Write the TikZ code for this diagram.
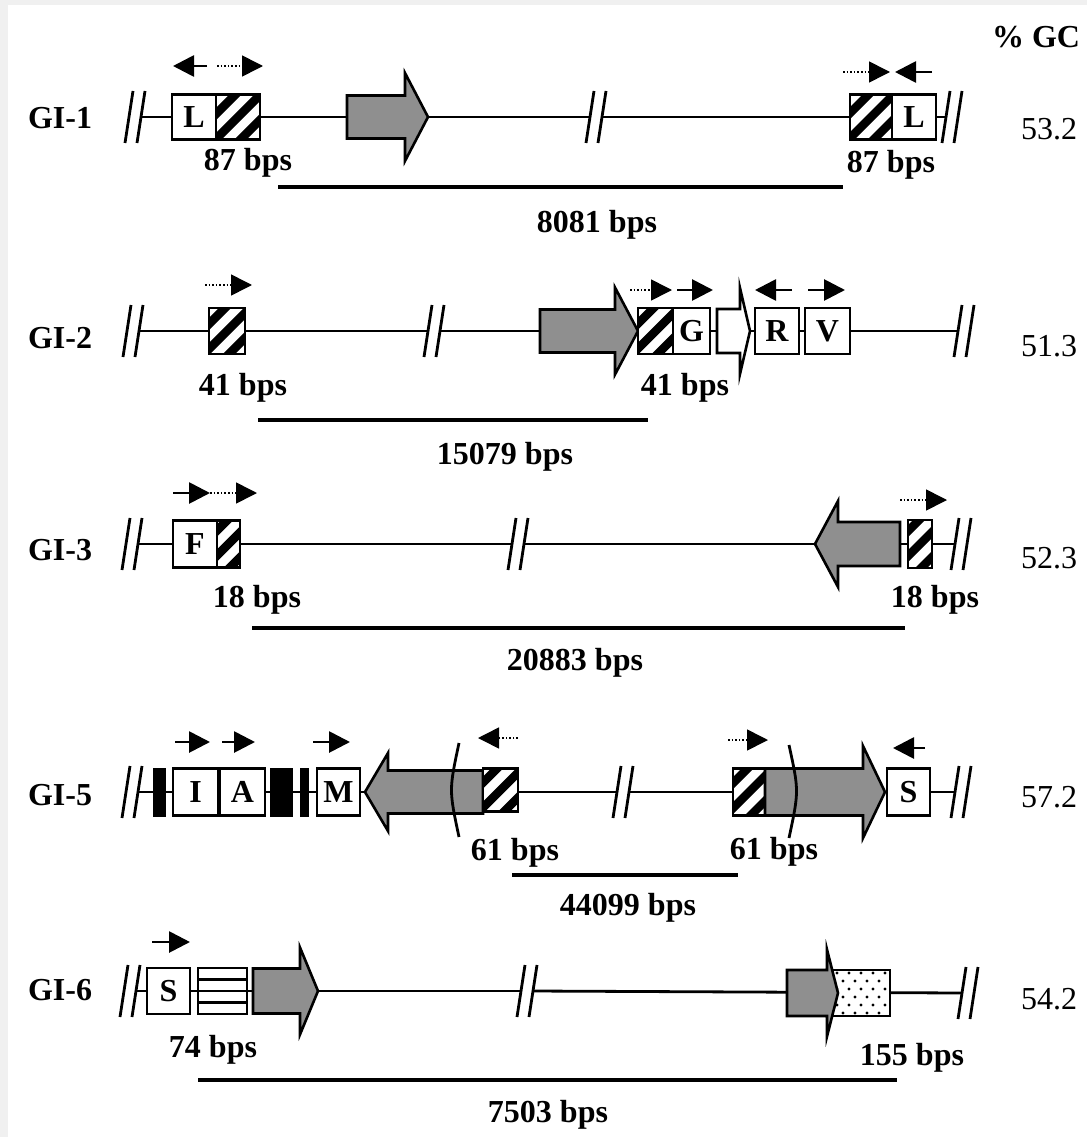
\documentclass[tikz,border=0pt]{standalone}
\usepackage{fontspec}
\setmainfont{Liberation Serif}
\usetikzlibrary{arrows.meta,calc,backgrounds}
\definecolor{genegray}{gray}{0.56}
\tikzset{
  bb/.style={line width=2.8pt},
  brk/.style={line width=2.8pt},
  gbox/.style={draw, line width=2.6pt, fill=white, inner sep=0pt, minimum height=45pt, font=\bfseries},
  hatchbox/.style={gbox, path picture={
      \foreach \s in {-3,...,3}
        \draw[black, line width=8.5pt] ([xshift=\s*25pt]path picture bounding box.center) ++(-35pt,-35pt) -- ++(70pt,70pt);}},
  stripebox/.style={gbox, path picture={
      \foreach \f in {0.25,0.5,0.75}
        \draw[black, line width=2.4pt] ($(path picture bounding box.south west)!\f!(path picture bounding box.north west)$)
          -- ($(path picture bounding box.south east)!\f!(path picture bounding box.north east)$);}},
  dotbox/.style={gbox, path picture={
      \foreach \j in {0,...,5} {
        \pgfmathsetmacro\off{mod(\j,2)*6}
        \foreach \i in {0,...,5}
          \fill[black] ([xshift={\i*12pt+\off*1pt+4pt}, yshift={\j*8pt+3pt}]path picture bounding box.south west) circle (1.6pt);
      }}},
  blackbar/.style={draw, fill=black, line width=1pt, inner sep=0pt, minimum height=48pt},
  gene/.style={draw, line width=2.6pt, line join=miter},
  dirarr/.style={line width=2.8pt, -{Triangle[length=21pt,width=21pt]}},
  dotarr/.style={line width=1.6pt, dotted, -{Triangle[length=21pt,width=21pt]}},
  span/.style={line width=3.8pt},
  bplab/.style={font=\bfseries},
  gilab/.style={font=\bfseries},
  gclab/.style={}
}
% gene arrow: [fill]{x0}{head base}{tip}{y}{half body}{half head}
\newcommand\gene[7][genegray]{%
  \filldraw[gene, fill=#1] ({#2},{#5-#6}) -- ({#3},{#5-#6}) -- ({#3},{#5-#7}) -- ({#4},{#5})
    -- ({#3},{#5+#7}) -- ({#3},{#5+#6}) -- ({#2},{#5+#6}) -- cycle;}
% break mark on the backbone
\newcommand\breakmark[3]{%
  \draw[brk] ({#2-4},{#3+26}) -- ({#2+4},{#3-26});
  \draw[brk] ({#2+8},{#3+26}) -- ({#2+16},{#3-26});
  \coordinate (#1-l) at ({#2},{#3});
  \coordinate (#1-r) at ({#2+12},{#3});}
\begin{document}
\fontsize{32}{36}\selectfont
\begin{tikzpicture}[x=1pt,y=-1pt]
\useasboundingbox (0,0) rectangle (1087,1137);
\node[gilab] (gc) at (1036,37) {\% GC};

% GI-1
\node[gilab] (gi1) at (60,118) {GI-1};
\breakmark{b1a}{129}{117}
\node[gbox, minimum width=44pt] (L1) at (194,117) {L};
\node[hatchbox, minimum width=44pt] (h1a) at (238,117) {};
\gene{347}{405}{428}{117}{21.5}{44}
\breakmark{b1b}{590}{117}
\node[hatchbox, minimum width=42pt] (h1b) at (871,117) {};
\node[gbox, minimum width=44pt] (L2) at (914,117) {L};
\breakmark{b1c}{946}{117}
\draw[dirarr] (207,66) -- (173,66);
\draw[dotarr] (217,66) -- (263,66);
\draw[dotarr] (843,72) -- (890,72);
\draw[dirarr] (932,72) -- (895,72);
\node[bplab] (bp1a) at (248,163) {87 bps};
\node[bplab] (bp1b) at (891,165) {87 bps};
\draw[span] (278,187) -- (843,187);
\node[bplab] (len1) at (597,225) {8081 bps};
\node[gclab] (gc1) at (1049,129) {53.2};

% GI-2
\node[gilab] (gi2) at (60,338) {GI-2};
\breakmark{b2a}{127}{331}
\node[hatchbox, minimum width=36pt, minimum height=46pt] (h2a) at (227,331) {};
\breakmark{b2b}{428}{331}
\gene{540}{615}{638}{331}{21.5}{43.5}
\node[hatchbox, minimum width=35pt, minimum height=46pt] (h2b) at (655.5,331) {};
\node[gbox, minimum width=37pt, minimum height=46pt] (G2) at (691.5,331) {G};
\gene[white]{717}{740}{750}{331}{22}{43}
\node[gbox, minimum width=44pt, minimum height=46pt] (R2) at (777,331) {R};
\node[gbox, minimum width=45pt, minimum height=46pt] (V2) at (827.5,331) {V};
\breakmark{b2c}{958}{331}
\draw[dotarr] (205,285) -- (252,285);
\draw[dotarr] (630,290) -- (672,290);
\draw[dirarr] (677,290) -- (713,290);
\draw[dirarr] (792,290) -- (755,290);
\draw[dirarr] (808,290) -- (845,290);
\node[bplab] (bp2a) at (243,388) {41 bps};
\node[bplab] (bp2b) at (685,388) {41 bps};
\draw[span] (258,420) -- (648,420);
\node[bplab] (len2) at (505,457) {15079 bps};
\node[gclab] (gc2) at (1049,346) {51.3};

% GI-3
\node[gilab] (gi3) at (60,550) {GI-3};
\breakmark{b3a}{126}{544}
\node[gbox, minimum width=44pt, minimum height=47pt] (F3) at (195,544) {F};
\node[hatchbox, minimum width=23pt, minimum height=47pt] (h3a) at (228.5,544) {};
\breakmark{b3b}{512}{544}
\gene{900}{838}{815}{544}{22}{43}
\node[hatchbox, minimum width=24pt, minimum height=48pt] (h3b) at (920,544) {};
\breakmark{b3c}{955}{544}
\draw[dirarr] (173,493) -- (210,493);
\draw[dotarr] (210,493) -- (257,493);
\draw[dotarr] (900,500) -- (947,500);
\node[bplab] (bp3a) at (257,600) {18 bps};
\node[bplab] (bp3b) at (935,600) {18 bps};
\draw[span] (252,628) -- (905,628);
\node[bplab] (len3) at (575,663) {20883 bps};
\node[gclab] (gc3) at (1049,558) {52.3};

% GI-5
\node[gilab] (gi5) at (60,795) {GI-5};
\breakmark{b5a}{126}{792}
\node[blackbar, minimum width=12pt] (k5a) at (159,792) {};
\node[gbox, minimum width=45pt, minimum height=47pt] (I5) at (195.5,792) {I};
\node[gbox, minimum width=45pt, minimum height=47pt] (A5) at (242.5,792) {A};
\node[blackbar, minimum width=22pt] (k5b) at (281,792) {};
\node[blackbar, minimum width=8pt] (k5c) at (304,792) {};
\node[gbox, minimum width=43pt, minimum height=47pt] (M5) at (338.5,792) {M};
\gene{483}{388}{365}{792}{21.5}{39}
\node[hatchbox, minimum width=35pt, minimum height=43pt] (h5a) at (500.5,790) {};
\draw[brk] (459,743) .. controls (449,790) .. (459,837);
\breakmark{b5b}{617}{792}
\node[hatchbox, minimum width=32pt, minimum height=47pt] (h5b) at (749,792) {};
\gene{765}{863}{885}{792}{23.5}{46}
\draw[brk] (789,745) .. controls (799,791) .. (789,838);
\node[gbox, minimum width=43pt, minimum height=47pt] (S5) at (908.5,792) {S};
\breakmark{b5c}{955}{792}
\draw[dirarr] (175,742) -- (210,742);
\draw[dirarr] (222,742) -- (255,742);
\draw[dirarr] (313,742) -- (350,742);
\draw[dotarr] (518,738) -- (478,738);
\draw[dotarr] (728,740) -- (768,740);
\draw[dirarr] (925,748) -- (893,748);
\node[bplab] (bp5a) at (515,853) {61 bps};
\node[bplab] (bp5b) at (774,852) {61 bps};
\draw[span] (512,875) -- (738,875);
\node[bplab] (len5) at (628,908) {44099 bps};
\node[gclab] (gc5) at (1049,797) {57.2};

% GI-6
\node[gilab] (gi6) at (60,990) {GI-6};
\breakmark{b6a}{124}{991}
\node[gbox, minimum width=43pt, minimum height=46pt] (S6) at (168.5,991) {S};
\node[stripebox, minimum width=49pt, minimum height=46pt] (st6) at (222.5,991) {};
\gene{253}{300}{318}{991}{22.5}{43.5}
\breakmark{b6b}{521}{991}
\node[dotbox, minimum width=63pt, minimum height=46pt] (d6) at (858.5,993) {};
\gene{787}{827}{838}{993}{23}{43.5}
\breakmark{b6c}{962}{993}
\draw[dirarr] (152,942) -- (190,942);
\node[bplab] (bp6a) at (213,1050) {74 bps};
\node[bplab] (bp6b) at (912,1058) {155 bps};
\draw[span] (198,1080) -- (897,1080);
\node[bplab] (len6) at (548,1115) {7503 bps};
\node[gclab] (gc6) at (1049,999) {54.2};

% frame and backbones
\begin{pgfonlayer}{background}
  \fill[gray!12] (0,0) rectangle (1087,1137);
  \fill[white] (8,5) rectangle (1087,1137);
  \draw[bb] (b1a-r) -- (b1b-l);
  \draw[bb] (b1b-r) -- (b1c-l);
  \draw[bb] (b2a-r) -- (b2b-l);
  \draw[bb] (b2b-r) -- (b2c-l);
  \draw[bb] (b3a-r) -- (b3b-l);
  \draw[bb] (b3b-r) -- (b3c-l);
  \draw[bb] (b5a-r) -- (b5b-l);
  \draw[bb] (b5b-r) -- (b5c-l);
  \draw[bb] (b6a-r) -- (b6b-l);
  \draw[bb] (b6b-r) -- (b6c-l);
\end{pgfonlayer}
\end{tikzpicture}
\end{document}
